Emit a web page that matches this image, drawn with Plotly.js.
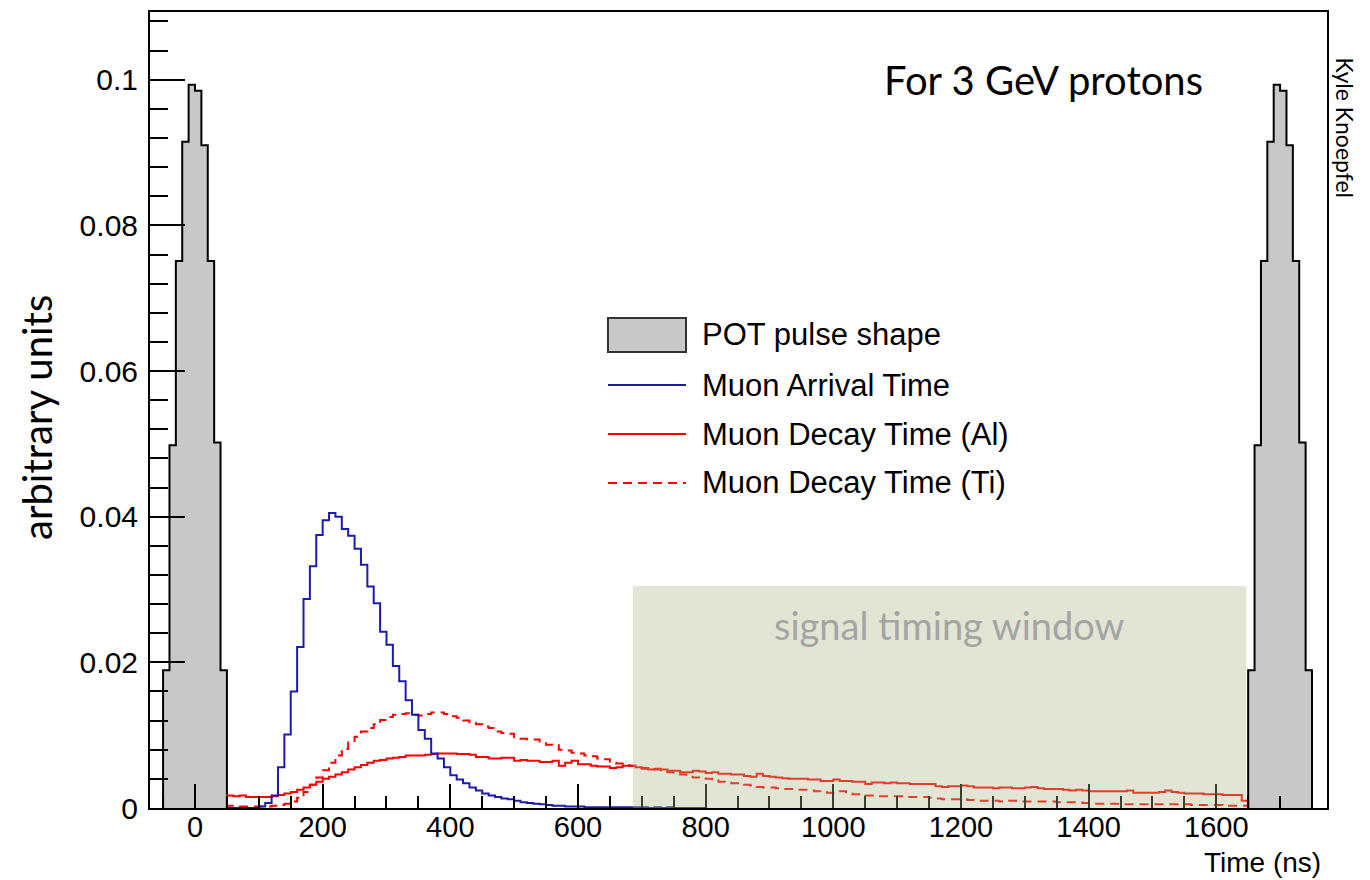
<!DOCTYPE html>
<html><head><meta charset="utf-8">
<script src="https://cdn.plot.ly/plotly-3.0.1.min.js"></script>
<style>body{margin:0;background:#fff}#chart{width:1370px;height:880px}</style>
</head><body><div id="chart"></div>
<script>
// ---- data ----
const binWidth = 10; // ns
const potStarts = [-50, 1650];
const potValues = [0.0189,0.0498,0.0751,0.0915,0.0993,0.0985,0.0910,0.0751,0.0502,0.0189];

const muonStart = 50;
const muonArrival = [
0,0,0,0,0, 0.0002,0.0007,0.0017,0.0056,0.0101,
0.0160,0.0221,0.0287,0.0332,0.0375, 0.0395,0.0405,0.0400,0.0383,0.0374,
0.0356,0.0334,0.0304,0.0281,0.0242, 0.0224,0.0195,0.0174,0.0148,0.0128,
0.0107,0.0095,0.0075,0.0068,0.0056, 0.0045,0.0039,0.0034,0.0028,0.0024,
0.0020,0.0017,0.0015,0.0013,0.0012, 0.0010,0.0008,0.0007,0.0006,0.0005,
0.0004,0.0003,0.0003,0.0002,0.0002, 0.0002,0.0001,0.0001,0.0001,0.0001,
0.0001,0.0001,0.0001,0.0001,0.0001, 0.0001,0,0.0001,0,0.0001,
0,0,0,0,0];

const decayStart = 50;
const decayAl = [
0.0017,0.0016,0.0017,0.0015,0.0015,0.0015,0.0015,0.0016,0.0018,0.0020,
0.0022,0.0025,0.0028,0.0032,0.0036,0.0040,0.0043,0.0046,0.0049,0.0053,
0.0056,0.0059,0.0062,0.0065,0.0066,0.0068,0.0069,0.0070,0.0072,0.0072,
0.0072,0.0073,0.0074,0.0075,0.0075,0.0075,0.0074,0.0074,0.0073,0.0070,
0.0070,0.0068,0.0068,0.0069,0.0069,0.0065,0.0066,0.0065,0.0065,0.0063,
0.0063,0.0065,0.0058,0.0062,0.0065,0.0060,0.0060,0.0058,0.0057,0.0057,
0.0055,0.0056,0.0058,0.0058,0.0056,0.0055,0.0053,0.0054,0.0053,0.0051,
0.0051,0.0049,0.0049,0.0051,0.0050,0.0048,0.0049,0.0047,0.0047,0.0046,
0.0046,0.0044,0.0043,0.0047,0.0044,0.0043,0.0042,0.0041,0.0040,0.0040,
0.0040,0.0039,0.0039,0.0037,0.0037,0.0039,0.0037,0.0037,0.0036,0.0036,
0.0033,0.0035,0.0035,0.0034,0.0035,0.0034,0.0034,0.0033,0.0033,0.0033,
0.0033,0.0030,0.0029,0.0030,0.0030,0.0031,0.0030,0.0028,0.0028,0.0028,
0.0027,0.0028,0.0028,0.0027,0.0027,0.0028,0.0029,0.0027,0.0026,0.0026,
0.0026,0.0025,0.0024,0.0025,0.0024,0.0023,0.0023,0.0023,0.0023,0.0023,
0.0023,0.0024,0.0021,0.0021,0.0021,0.0021,0.0022,0.0024,0.0022,0.0021,
0.0020,0.0020,0.0020,0.0019,0.0019,0.0019,0.0018,0.0018,0.0018,0.0010];

const decayTi = [
0.0003,0.0003,0.0002,0.0002,0.0002,0.0002,0.0002,0.0003,0.0004,0.0006,
0.0009,0.0014,0.0022,0.0032,0.0042,0.0052,0.0062,0.0072,0.0081,0.0090,
0.0098,0.0105,0.0110,0.0115,0.0121,0.0125,0.0128,0.0129,0.0130,0.0128,
0.0127,0.0129,0.0131,0.0131,0.0129,0.0126,0.0124,0.0120,0.0117,0.0115,
0.0112,0.0110,0.0105,0.0103,0.0102,0.0097,0.0095,0.0094,0.0094,0.0089,
0.0087,0.0086,0.0080,0.0079,0.0076,0.0075,0.0072,0.0071,0.0068,0.0067,
0.0062,0.0061,0.0059,0.0058,0.0055,0.0054,0.0054,0.0053,0.0050,0.0049,
0.0047,0.0046,0.0043,0.0042,0.0041,0.0040,0.0038,0.0036,0.0035,0.0034,
0.0034,0.0032,0.0031,0.0029,0.0028,0.0028,0.0027,0.0026,0.0026,0.0025,
0.0025,0.0024,0.0023,0.0022,0.0021,0.0022,0.0023,0.0020,0.0019,0.0019,
0.0017,0.0017,0.0016,0.0016,0.0016,0.0016,0.0015,0.0015,0.0015,0.0015,
0.0014,0.0013,0.0012,0.0012,0.0012,0.0012,0.0011,0.0010,0.0010,0.0010,
0.0010,0.0009,0.0010,0.0010,0.0009,0.0009,0.0009,0.0009,0.0009,0.0009,
0.0008,0.0008,0.0008,0.0008,0.0007,0.0007,0.0006,0.0006,0.0006,0.0006,
0.0005,0.0005,0.0005,0.0005,0.0005,0.0005,0.0005,0.0005,0.0005,0.0005,
0.0005,0.0004,0.0004,0.0004,0.0004,0.0004,0.0003,0.0003,0.0003,0.0003];

const xTickVals = [0,200,400,600,800,1000,1200,1400,1600];
const xTickText = ['0','200','400','600','800','1000','1200','1400','1600'];
const yTickVals = [0,0.02,0.04,0.06,0.08,0.1];
const yTickText = ['0','0.02','0.04','0.06','0.08','0.1'];

const windowStart = 686, windowEnd = 1647, windowTop = 0.0305;
const legendNames = ['POT pulse shape','Muon Arrival Time','Muon Decay Time (Al)','Muon Decay Time (Ti)'];

// ---- build step outlines ----
function histPath(start, vals) {
  const x = [start], y = [0];
  vals.forEach((v, i) => { x.push(start + i * binWidth); y.push(v); });
  const end = start + vals.length * binWidth;
  x.push(end); y.push(vals[vals.length - 1]);
  x.push(end); y.push(0);
  return {x, y};
}

const traces = [];
potStarts.forEach(s => {
  const p = histPath(s, potValues);
  traces.push({x: p.x, y: p.y, type: 'scatter', mode: 'lines', line: {shape: 'hv', color: '#000', width: 2},
    fill: 'toself', fillcolor: '#c8c8c8', showlegend: false, hoverinfo: 'skip'});
});
const ti = histPath(decayStart, decayTi);
traces.push({x: ti.x, y: ti.y, type: 'scatter', mode: 'lines', name: legendNames[3],
  line: {shape: 'hv', color: '#ff0000', width: 2, dash: '9px,6px'}, showlegend: false});
const al = histPath(decayStart, decayAl);
traces.push({x: al.x, y: al.y, type: 'scatter', mode: 'lines', name: legendNames[2],
  line: {shape: 'hv', color: '#ff0000', width: 2}, showlegend: false});
const mu = histPath(muonStart, muonArrival);
traces.push({x: mu.x, y: mu.y, type: 'scatter', mode: 'lines', name: legendNames[1],
  line: {shape: 'hv', color: '#1c1ca8', width: 2}, showlegend: false});

const tickFont = {family: 'Liberation Sans, Arial, sans-serif', size: 29, color: '#000'};
const titleFont = {family: 'Liberation Sans, Arial, sans-serif', size: 28, color: '#000'};
const legFont = {family: 'Liberation Sans, Arial, sans-serif', size: 31, color: '#000'};
const calFont = 'Lato, Open Sans, sans-serif';

// legend geometry (paper coords)
const lx0 = 0.3891, lx1 = 0.4554, ltx = 0.4673;
const ly = [0.5943, 0.5314, 0.4698, 0.4083];

const layout = {
  width: 1370, height: 880,
  margin: {l: 150, r: 43, t: 12, b: 72},
  paper_bgcolor: '#fff', plot_bgcolor: '#fff',
  showlegend: false,
  xaxis: {
    range: [-70.5, 1773.5], showgrid: false, zeroline: false,
    showline: true, mirror: true, linecolor: '#000', linewidth: 2,
    tickmode: 'array', tickvals: xTickVals, ticktext: xTickText,
    ticks: 'inside', ticklen: 24, tickwidth: 2, tickcolor: '#000',
    minor: {tickmode: 'linear', tick0: 0, dtick: 50, ticks: 'inside', ticklen: 12, tickwidth: 2, tickcolor: '#000'},
    tickfont: tickFont, ticklabelstandoff: -8
  },
  yaxis: {
    range: [0, 0.1093], showgrid: false, zeroline: false,
    showline: true, mirror: true, linecolor: '#000', linewidth: 2,
    tickmode: 'array', tickvals: yTickVals, ticktext: yTickText,
    ticks: 'inside', ticklen: 35, tickwidth: 2, tickcolor: '#000',
    minor: {tickmode: 'linear', tick0: 0, dtick: 0.004, ticks: 'inside', ticklen: 18, tickwidth: 2, tickcolor: '#000'},
    tickfont: {family: 'Liberation Sans, Arial, sans-serif', size: 30, color: '#000'}, ticklabelstandoff: 4
  },
  shapes: [
    {type: 'rect', xref: 'x', yref: 'y', x0: windowStart, x1: windowEnd, y0: 0, y1: windowTop,
     fillcolor: 'rgb(172,181,132)', opacity: 0.35, line: {width: 0}, layer: 'above'},
    {type: 'rect', xref: 'paper', yref: 'paper', x0: lx0, x1: lx1, y0: 0.5729, y1: 0.6156,
     fillcolor: '#c8c8c8', line: {color: '#333', width: 2}},
    {type: 'line', xref: 'paper', yref: 'paper', x0: lx0, x1: lx1, y0: ly[1], y1: ly[1], line: {color: '#1c1ca8', width: 2}},
    {type: 'line', xref: 'paper', yref: 'paper', x0: lx0, x1: lx1, y0: ly[2], y1: ly[2], line: {color: '#ff0000', width: 2}},
    {type: 'line', xref: 'paper', yref: 'paper', x0: lx0, x1: lx1, y0: ly[3], y1: ly[3], line: {color: '#ff0000', width: 2, dash: '9px,6px'}}
  ],
  annotations: [
    ...legendNames.map((n, i) => ({text: n, xref: 'paper', yref: 'paper', x: ltx, y: ly[i], xanchor: 'left', yanchor: 'middle', showarrow: false, font: legFont})),
    {text: 'signal timing window', xref: 'paper', yref: 'paper', x: 0.6789, y: 0.2299, xanchor: 'center', yanchor: 'middle', showarrow: false,
     font: {family: calFont, size: 38, color: '#a4a4a4'}},
    {text: 'For 3 GeV protons', xref: 'paper', yref: 'paper', x: 0.8963, y: 0.9146, xanchor: 'right', yanchor: 'middle', showarrow: false,
     font: {family: calFont, size: 40, color: '#000'}},
    {text: 'Time (ns)', xref: 'paper', yref: 'paper', x: 0.9966, y: -0.0685, xanchor: 'right', yanchor: 'middle', showarrow: false, font: titleFont},
    {text: 'arbitrary units', xref: 'paper', yref: 'paper', x: -0.096, y: 0.49, xanchor: 'center', yanchor: 'middle', textangle: -90, showarrow: false,
     font: {family: calFont, size: 40, color: '#000'}},
    {text: 'Kyle Knoepfel', xref: 'paper', yref: 'paper', x: 1.0153, y: 0.855, xanchor: 'center', yanchor: 'middle', textangle: 90, showarrow: false,
     font: {family: calFont, size: 23, color: '#000'}}
  ]
};
Plotly.newPlot('chart', traces, layout, {staticPlot: true});
</script></body></html>
